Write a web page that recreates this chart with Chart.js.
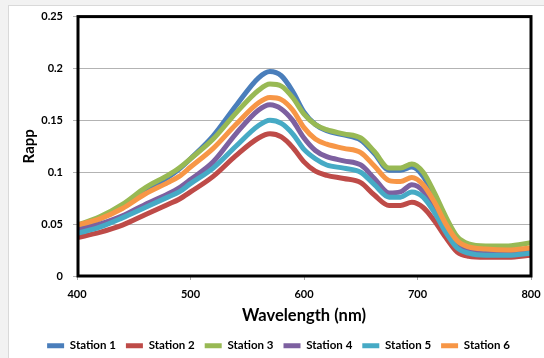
<!DOCTYPE html>
<html>
<head>
<meta charset="utf-8">
<script src="https://cdn.jsdelivr.net/npm/chart.js@4"></script>
<style>
    html, body { margin: 0; padding: 0; background: #f2f2f2; }
    #frame {
        position: absolute; left: 8px; top: 5px; width: 560px; height: 380px;
        background: #ffffff; border-left: 1px solid #d9d9d9; border-top: 1px solid #d9d9d9;
    }
    #wrap { position: absolute; left: 0; top: 0; width: 544px; height: 358px; }
</style>
</head>
<body>
<div id="frame"></div>
<div id="wrap"><canvas id="specChart"></canvas></div>
<script>
// wavelength (nm) and reflectance per station
const wavelengths = [400,420,440,460,480,490,500,520,540,560,570,580,590,600,610,620,635,650,662,675,685,695,705,715,725,735,745,760,780,800];
const station1 = [.047,.055,.067,.082,.095,.103,.113,.135,.164,.191,.197,.193,.178,.158,.146,.140,.136,.131,.118,.102,.102,.105,.096,.075,.050,.031,.025,.022,.022,.024];
const station2 = [.037,.042,.049,.059,.069,.074,.081,.096,.116,.133,.137,.134,.124,.110,.101,.097,.094,.090,.078,.068,.068,.071,.066,.053,.037,.023,.019,.018,.018,.020];
const station3 = [.049,.057,.069,.085,.097,.104,.113,.132,.157,.179,.185,.183,.172,.156,.146,.141,.137,.133,.120,.104,.104,.108,.100,.080,.057,.038,.031,.029,.029,.032];
const station4 = [.044,.050,.058,.069,.079,.085,.093,.110,.137,.160,.165,.161,.150,.133,.121,.115,.111,.107,.094,.080,.081,.088,.082,.065,.045,.029,.024,.021,.021,.023];
const station5 = [.041,.047,.056,.066,.076,.081,.089,.104,.125,.145,.150,.147,.137,.122,.113,.107,.104,.100,.088,.076,.076,.081,.076,.061,.042,.027,.022,.020,.020,.022];
const station6 = [.049,.055,.065,.079,.090,.096,.105,.123,.146,.167,.172,.170,.160,.143,.132,.127,.123,.119,.106,.092,.091,.095,.088,.071,.050,.034,.028,.026,.025,.027];

const seriesNames = ['Station 1','Station 2','Station 3','Station 4','Station 5','Station 6'];
const seriesValues = [station1, station2, station3, station4, station5, station6];
const seriesColors = ['#4a7ebb','#be4b48','#98b954','#7d60a0','#46aac5','#f79646'];

const xTicks = [400, 500, 600, 700, 800];
const yTickLabels = ['0','0.05','0.1','0.15','0.2','0.25'];

Chart.defaults.color = '#000000';
Chart.defaults.font.family = "Lato, 'Open Sans', sans-serif";

// thick black frame round the plot area
const plotFrame = {
    id: 'plotFrame',
    afterDatasetsDraw(chart) {
        const a = chart.chartArea;
        const ctx = chart.ctx;
        ctx.save();
        ctx.strokeStyle = '#000000';
        ctx.lineWidth = 3;
        ctx.strokeRect(a.left + 1, a.top, a.right - a.left - 1, a.bottom - a.top);
        ctx.restore();
    }
};

const datasets = seriesNames.map((name, i) => ({
    label: name,
    data: wavelengths.map((w, j) => ({ x: w, y: seriesValues[i][j] })),
    borderColor: seriesColors[i],
    backgroundColor: seriesColors[i],
    borderWidth: 5,
    pointRadius: 0,
    cubicInterpolationMode: 'monotone',
    order: seriesNames.length - i   // later stations drawn on top
}));

new Chart(document.getElementById('specChart'), {
    type: 'line',
    data: { datasets: datasets },
    plugins: [plotFrame],
    options: {
        responsive: true,
        maintainAspectRatio: false,
        animation: false,
        layout: {
            padding: { left: 26, top: 16, right: 13, bottom: 0 }
        },
        plugins: {
            tooltip: { enabled: false },
            legend: {
                position: 'bottom',
                maxHeight: 28,
                labels: {
                    usePointStyle: true,
                    pointStyle: 'line',
                    pointStyleWidth: 17,
                    padding: 10,
                    font: { size: 11.5, weight: 'bold' },
                    sort: (a, b) => a.datasetIndex - b.datasetIndex
                }
            }
        },
        scales: {
            x: {
                type: 'linear',
                min: 400,
                max: 800,
                afterBuildTicks: s => { s.ticks = xTicks.map(v => ({ value: v })); },
                afterFit: s => {
                    s.height = 54;
                    s.paddingLeft = 0;
                    s.paddingRight = 0;
                },
                grid: { drawOnChartArea: false, tickLength: 4, color: '#a6a6a6' },
                border: { color: '#a6a6a6' },
                ticks: { padding: 8, font: { size: 11, weight: 'bold' } },
                title: {
                    display: true,
                    text: 'Wavelength (nm)',
                    font: { size: 16.5, weight: 'bold' },
                    padding: { top: 0, bottom: 4 }
                }
            },
            y: {
                min: 0,
                max: 0.25,
                afterFit: s => { s.width = 51; },
                grid: { color: '#b3b3b3', tickLength: 4 },
                border: { color: '#a6a6a6' },
                ticks: {
                    stepSize: 0.05,
                    padding: 10,
                    font: { size: 11, weight: 'bold' },
                    callback: (v, i) => yTickLabels[i]
                },
                title: {
                    display: true,
                    text: 'Rapp',
                    font: { size: 15, weight: 'bold' },
                    padding: { top: -6, bottom: 0 }
                }
            }
        }
    }
});
</script>
</body>
</html>
